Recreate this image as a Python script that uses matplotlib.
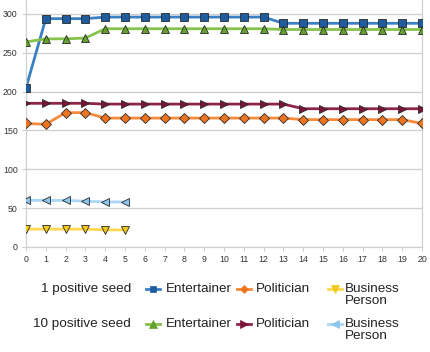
import matplotlib.pyplot as plt
from matplotlib.lines import Line2D

plt.rcParams['font.family'] = ['Liberation Sans', 'DejaVu Sans']

steps = list(range(21))
steps_bp = list(range(6))

# 1 positive seed
ent_1 = [205, 294, 294, 294, 296, 296, 296, 296, 296, 296, 296, 296, 296,
         288, 288, 288, 288, 288, 288, 288, 288]
pol_1 = [159, 158, 173, 173, 166, 166, 166, 166, 166, 166, 166, 166, 166,
         166, 164, 164, 164, 164, 164, 164, 159]
bus_1 = [23, 23, 23, 23, 22, 22]

# 10 positive seed
ent_10 = [264, 268, 268, 269, 281, 281, 281, 281, 281, 281, 281, 281, 281,
          280, 280, 280, 280, 280, 280, 280, 280]
pol_10 = [185, 185, 185, 185, 184, 184, 184, 184, 184, 184, 184, 184, 184,
          184, 178, 178, 178, 178, 178, 178, 178]
bus_10 = [60, 60, 60, 59, 58, 58]

row_names = ['1 positive seed', '10 positive seed']
labels = ['Entertainer', 'Politician', 'Business\nPerson']

series = [
    # (x, y, line colour, marker, face colour, size)
    (steps, ent_1, '#3a80c4', 's', '#1f5c9e', 5.8),
    (steps, pol_1, '#f58a3a', 'D', '#ee7420', 4.6),
    (steps_bp, bus_1, '#ffd84f', 'v', '#f3c81c', 6.3),
    (steps, ent_10, '#86c34c', '^', '#64a12d', 6.3),
    (steps, pol_10, '#8e2448', '>', '#7c1438', 6.3),
    (steps_bp, bus_10, '#acd7f4', '<', '#8cc6ee', 6.3),
]

W, H = 431, 352
fig = plt.figure(figsize=(W / 100, H / 100), dpi=100)
ax = fig.add_axes([26 / W, 1 - 247 / H, 396 / W, 247 / H])

for x, y, lc, m, fc, ms in series:
    ax.plot(x, y, color=lc, lw=2.0, zorder=2)
    ax.plot(x, y, ls='none', marker=m, ms=ms, mfc=fc, mec='#2a2a2a',
            mew=0.6, zorder=3)

ax.set_xlim(0, 20)
ax.set_ylim(0, 318)
ax.set_xticks(range(0, 21))
ax.set_yticks(range(0, 301, 50))
ax.yaxis.grid(True, color='#cfcfcf', lw=0.9)
ax.set_axisbelow(True)
ax.spines['top'].set_visible(False)
for side in ['left', 'right', 'bottom']:
    ax.spines[side].set_color('#d0d0d0')
    ax.spines[side].set_linewidth(0.9)
ax.tick_params(axis='both', labelsize=6.3, colors='#d0d0d0',
               labelcolor='#333333', length=3, width=0.8, pad=3)

# legend drawn by hand: two rows of three entries
row_y = [289, 324]
entry_x = [146, 237, 328]
text_x = [166, 256, 345]
for r in range(2):
    fy = 1 - row_y[r] / H
    ty = 1 - (row_y[r] - 6) / H
    fig.text(131 / W, ty, row_names[r], ha='right', va='top',
             fontsize=9.7, color='#222222')
    for c in range(3):
        x, y, lc, m, fc, ms = series[r * 3 + c]
        x0 = entry_x[c] / W
        x1 = (entry_x[c] + 14) / W
        fig.add_artist(Line2D([x0, x1], [fy, fy], color=lc, lw=2.0,
                              transform=fig.transFigure))
        fig.add_artist(Line2D([(x0 + x1) / 2], [fy], ls='none', marker=m,
                              ms=ms * 0.85, mfc=fc, mec=fc, mew=0.5,
                              transform=fig.transFigure))
        fig.text(text_x[c] / W, ty, labels[c],
                 ha='left', va='top', fontsize=9.7, color='#222222',
                 linespacing=1.0)

fig.savefig('out.png', dpi=100)
